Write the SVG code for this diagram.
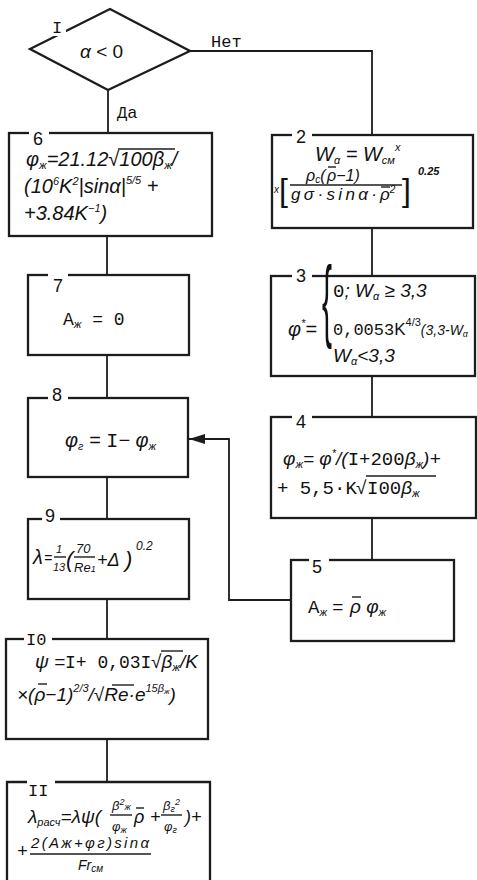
<svg xmlns="http://www.w3.org/2000/svg" width="477" height="880" viewBox="0 0 477 880">
<defs>
<marker id="ah" markerUnits="userSpaceOnUse" markerWidth="18" markerHeight="10" refX="16" refY="5" orient="auto">
<path d="M0,0 L16,5 L0,10 Z" fill="#1c1c1c"/>
</marker>
</defs>
<style>
.b{fill:none;stroke:#1c1c1c;stroke-width:2.3}
.c{fill:none;stroke:#1c1c1c;stroke-width:1.8}
.o{fill:none;stroke:#1c1c1c;stroke-width:1.4}
.w{fill:#fff}
.t{font-family:"Liberation Sans","DejaVu Sans",sans-serif;font-style:italic;font-size:18px;fill:#111}
.u{font-family:"Liberation Sans","DejaVu Sans",sans-serif;font-size:18px;fill:#111}
.m{font-family:"Liberation Mono","DejaVu Sans Mono",monospace;font-size:17px;fill:#111}
.mm{font-family:"Liberation Mono","DejaVu Sans Mono",monospace;font-style:normal}
.n{font-family:"Liberation Sans","DejaVu Sans",sans-serif;font-size:18px;fill:#111}
.s{font-size:11px}
</style>
<rect width="477" height="880" fill="#fff"/>
<g id="connectors">
<path class="c" d="M190,51 H372 V135"/>
<path class="c" d="M108,90 V133"/>
<path class="c" d="M107,236 V275"/>
<path class="c" d="M107,355 V398"/>
<path class="c" d="M107,477 V519"/>
<path class="c" d="M107,599 V639"/>
<path class="c" d="M107,739 V782"/>
<path class="c" d="M372,228 V276"/>
<path class="c" d="M372,376 V417"/>
<path class="c" d="M372,518 V560"/>
<path class="c" d="M291,600 H229 V439 H189" marker-end="url(#ah)"/>
<text class="m" x="211" y="47">Нет</text>
<text class="m" x="117" y="118">Да</text>
</g>
<g id="n1">
<polygon class="b" points="30,49 110,9 190,51 108,90"/>
<rect class="w" x="48" y="18" width="18" height="18"/>
<text class="m" x="52" y="33">I</text>
<text class="t" x="80" y="58" style="font-size:19px">α <tspan style="font-style:normal">&lt; 0</tspan></text>
</g>
<g id="n6">
<rect class="b" x="9" y="133" width="203" height="103"/>
<rect class="w" x="29" y="126" width="20" height="14"/>
<text class="n" x="33" y="145">6</text>
<text class="t" x="26" y="166" style="font-size:20px">φ<tspan class="s" dy="3">ж</tspan><tspan dy="-3">=21.12√100β</tspan><tspan class="s" dy="3">ж</tspan><tspan dy="-3">/</tspan></text>
<path class="o" d="M118,149 H175"/>
<text class="t" x="24" y="193" style="font-size:20px">(10<tspan class="s" dy="-8">6</tspan><tspan dy="8">K</tspan><tspan class="s" dy="-8">2</tspan><tspan dy="8">|sinα|</tspan><tspan class="s" dy="-9">5/5</tspan><tspan dy="9"> +</tspan></text>
<text class="t" x="24" y="220" style="font-size:20px">+3.84K<tspan class="s" dy="-8">−1</tspan><tspan dy="8">)</tspan></text>
</g>
<g id="n7">
<rect class="b" x="28" y="275" width="161" height="80"/>
<rect class="w" x="48" y="268" width="20" height="14"/>
<text class="n" x="53" y="292">7</text>
<text class="m" x="63" y="325" style="font-size:18px">A<tspan class="s" dy="3" style="font-family:'Liberation Sans',sans-serif;font-style:italic">ж</tspan><tspan dy="-3"> =  0</tspan></text>
</g>
<g id="n8">
<rect class="b" x="28" y="398" width="160" height="79"/>
<rect class="w" x="48" y="390" width="20" height="14"/>
<text class="n" x="52" y="401">8</text>
<text class="t" x="65" y="447" style="font-size:20px">φ<tspan class="s" dy="3">г</tspan><tspan dy="-3"> = </tspan><tspan class="mm">I</tspan>− φ<tspan class="s" dy="3">ж</tspan></text>
</g>
<g id="n9">
<rect class="b" x="28" y="519" width="161" height="80"/>
<rect class="w" x="42" y="512" width="18" height="14"/>
<text class="n" x="45" y="522">9</text>
<text class="t" x="33" y="564" style="font-size:20px">λ</text>
<text class="t" x="44" y="563" style="font-size:14px">=</text>
<text class="t" x="56" y="553" style="font-size:11px">1</text>
<path class="o" d="M54,557 H66"/>
<text class="t" x="53" y="571" style="font-size:11px">13</text>
<text class="t" x="66" y="567" style="font-size:22px">(</text>
<text class="t" x="76" y="553" style="font-size:13px">70</text>
<path class="o" d="M74,557 H95"/>
<text class="t" x="74" y="572" style="font-size:13px">Re<tspan style="font-size:9px">1</tspan></text>
<text class="t" x="97" y="566" style="font-size:18px">+Δ</text>
<text class="t" x="125" y="567" style="font-size:22px">)</text>
<text class="t" x="136" y="550" style="font-size:12px">0.2</text>
</g>
<g id="n10">
<rect class="b" x="6" y="639" width="202" height="100"/>
<rect class="w" x="24" y="631" width="28" height="14"/>
<text class="m" x="26" y="645">I0</text>
<text class="t" x="35" y="668" style="font-size:19px">ψ =<tspan class="mm" x="65" style="font-size:18px">I+ 0,03I</tspan><tspan x="151">√β</tspan><tspan class="s" dy="3">ж</tspan><tspan dy="-3">/K</tspan></text>
<path class="o" d="M161,651 H183"/>
<text class="t" x="17" y="701" style="font-size:19px">×(ρ−1)<tspan class="s" dy="-9">2/3</tspan><tspan dy="9">/√Re·e</tspan><tspan class="s" dy="-9">15β</tspan><tspan style="font-size:8px" dy="2">ж</tspan><tspan dy="7">)</tspan></text>
<path class="o" d="M38,684 H47"/>
<path class="o" d="M112,685 H134"/>
</g>
<g id="n11">
<path class="b" d="M7,880 V782 H210 V880"/>
<rect class="w" x="27" y="775" width="28" height="14"/>
<text class="m" x="28" y="796">II</text>
<text class="t" x="28" y="823" style="font-size:19px">λ<tspan class="s" dy="3">расч</tspan><tspan dy="-3">=λψ(</tspan></text>
<text class="t" x="112" y="810" style="font-size:13px">β<tspan style="font-size:9px" dy="-5">2</tspan><tspan style="font-size:9px" dy="5">ж</tspan></text>
<path class="o" d="M110,815 H132"/>
<text class="t" x="112" y="831" style="font-size:13px">φ<tspan style="font-size:9px" dy="2">ж</tspan></text>
<text class="t" x="134" y="823" style="font-size:18px">ρ</text>
<path class="o" d="M136,808 H144"/>
<text class="t" x="150" y="823">+</text>
<text class="t" x="163" y="810" style="font-size:13px">β<tspan style="font-size:9px" dy="2">г</tspan><tspan style="font-size:9px" dy="-7">2</tspan></text>
<path class="o" d="M161,815 H182"/>
<text class="t" x="164" y="831" style="font-size:13px">φ<tspan style="font-size:9px" dy="2">г</tspan></text>
<text class="t" x="185" y="823">)+</text>
<text class="t" x="17" y="857">+</text>
<text class="t" x="31" y="848" style="font-size:15px" textLength="118">2(Aж+φг)sinα</text>
<path class="o" d="M30,854 H151"/>
<text class="t" x="78" y="870" style="font-size:14px">Fr<tspan style="font-size:10px" dy="2">см</tspan></text>
</g>
<g id="n2">
<rect class="b" x="272" y="135" width="201" height="93"/>
<rect class="w" x="292" y="128" width="20" height="14"/>
<text class="n" x="296" y="143">2</text>
<text class="t" x="315" y="161" style="font-size:20px">W<tspan class="s" dy="3">α</tspan><tspan dy="-3"> = W</tspan><tspan class="s" dy="3">см</tspan><tspan class="s" dy="-13">x</tspan></text>
<text class="t" x="274" y="193" style="font-size:10px">x</text>
<text class="u" x="279" y="201" style="font-size:32px">[</text>
<text class="t" x="306" y="181" style="font-size:16px">ρ<tspan style="font-size:10px" dy="2">c</tspan><tspan dy="-2">(</tspan><tspan x="327">ρ−1)</tspan></text>
<path class="o" d="M328,167 H336"/>
<path class="o" d="M290,185 H402"/>
<text class="t" x="291" y="200" style="font-size:17px" textLength="86">gσ·sinα·</text>
<text class="t" x="380" y="200" style="font-size:17px">ρ<tspan style="font-size:10px" dy="-7">2</tspan></text>
<path class="o" d="M381,187 H390"/>
<text class="u" x="402" y="201" style="font-size:32px">]</text>
<text class="t" x="418" y="175" style="font-size:11px;font-weight:bold">0.25</text>
</g>
<g id="n3">
<rect class="b" x="271" y="276" width="204" height="100"/>
<rect class="w" x="292" y="268" width="20" height="14"/>
<text class="n" x="296" y="282">3</text>
<text class="t" x="288" y="336" style="font-size:20px">φ<tspan class="s" dy="-9">*</tspan><tspan dy="9">=</tspan></text>
<text class="u" x="322" y="110" style="font-size:30px" transform="scale(1,3)">{</text>
<text class="t" x="333" y="297" style="font-size:19px"><tspan class="mm">0</tspan>; W<tspan class="s" dy="3">α</tspan><tspan dy="-3"> ≥ 3,3</tspan></text>
<text class="u" x="333" y="335" style="font-size:17px"><tspan class="mm">0,0053</tspan>K<tspan class="s" dy="-9">4/3</tspan><tspan style="font-size:14px;font-style:italic" dy="9">(3,3-W</tspan><tspan style="font-size:9px;font-style:italic" dy="2">α</tspan></text>
<text class="t" x="333" y="362" style="font-size:19px">W<tspan class="s" dy="3">α</tspan><tspan dy="-3">&lt;3,3</tspan></text>
</g>
<g id="n4">
<rect class="b" x="271" y="417" width="205" height="101"/>
<rect class="w" x="292" y="410" width="20" height="14"/>
<text class="n" x="296" y="428">4</text>
<text class="t" x="283" y="465" style="font-size:19px">φ<tspan class="s" dy="3">ж</tspan><tspan dy="-3">= φ</tspan><tspan class="s" dy="-8">*</tspan><tspan dy="8">/(</tspan><tspan class="mm">I+200</tspan>β<tspan class="s" dy="3">ж</tspan><tspan dy="-3">)+</tspan></text>
<text class="u" x="277" y="494" style="font-size:19px"><tspan class="mm">+ 5,5·K</tspan><tspan x="356">√</tspan><tspan class="mm" x="367">I00</tspan><tspan style="font-style:italic">β</tspan><tspan class="s" dy="3" style="font-style:italic">ж</tspan></text>
<path class="o" d="M366,476 H436"/>
</g>
<g id="n5">
<rect class="b" x="291" y="560" width="163" height="81"/>
<rect class="w" x="309" y="553" width="20" height="14"/>
<text class="n" x="312" y="573">5</text>
<text class="u" x="308" y="613" style="font-size:19px"><tspan class="mm">A</tspan><tspan class="s" dy="3" style="font-style:italic">ж</tspan><tspan dy="-3"> =</tspan><tspan x="350" style="font-style:italic">ρ φ</tspan><tspan class="s" dy="3" style="font-style:italic">ж</tspan></text>
<path class="o" d="M352,597 H361"/>
</g>
</svg>
